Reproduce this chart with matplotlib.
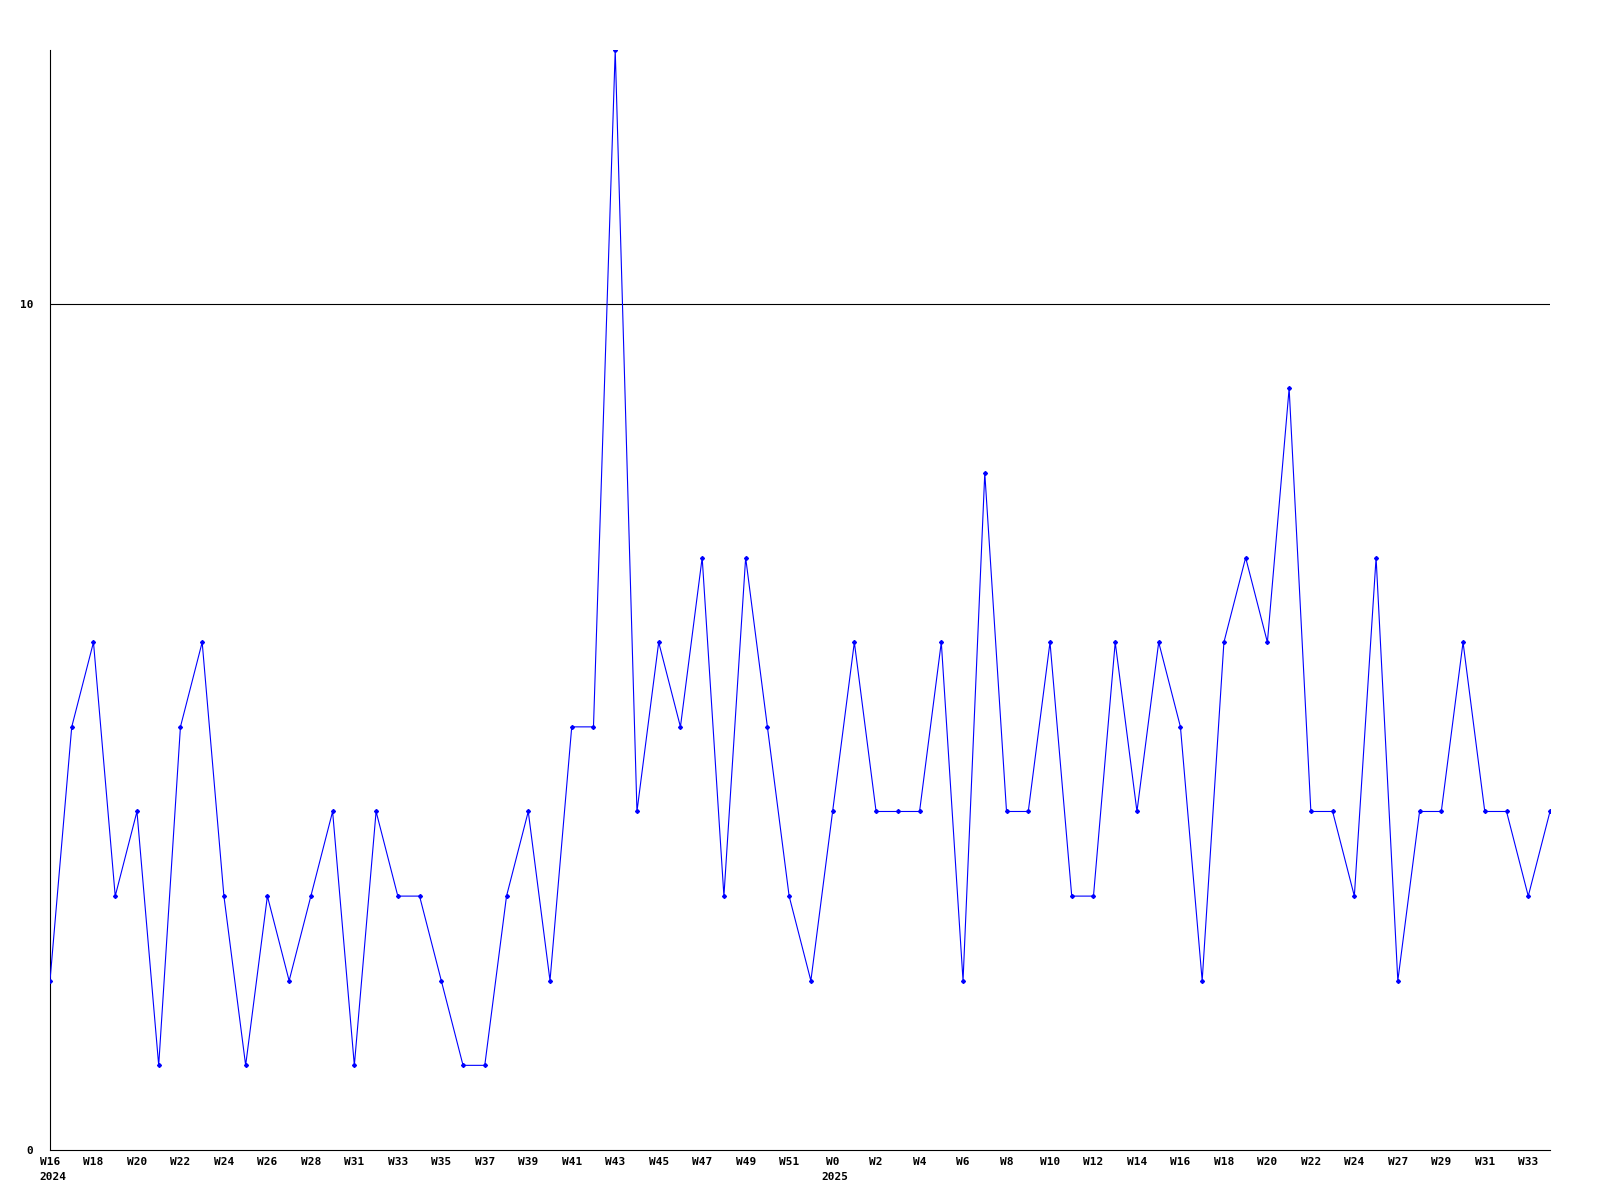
#!/usr/bin/env python3
"""Weekly counts, W16 2024 - W34 2025."""

import matplotlib
matplotlib.use("Agg")
import matplotlib.pyplot as plt
import matplotlib.transforms as mtransforms

# weekly values, one per week
values = [2, 5, 6, 3, 4, 1, 5, 6, 3, 1,
          3, 2, 3, 4, 1, 4, 3, 3, 2, 1,
          1, 3, 4, 2, 5, 5, 13, 4, 6, 5,
          7, 3, 7, 5, 3, 2, 4, 6, 4, 4,
          4, 6, 2, 8, 4, 4, 6, 3, 3, 6,
          4, 6, 5, 2, 6, 7, 6, 9, 4, 4,
          3, 7, 2, 4, 4, 6, 4, 4, 3, 4]

# labels on every second week
tick_labels = ["W16", "W18", "W20", "W22", "W24", "W26", "W28", "W31", "W33",
               "W35", "W37", "W39", "W41", "W43", "W45", "W47", "W49", "W51",
               "W0", "W2", "W4", "W6", "W8", "W10", "W12", "W14", "W16", "W18",
               "W20", "W22", "W24", "W27", "W29", "W31", "W33"]
year_labels = ["2024", "2025"]
year_idx = [0, 36]

y_ticks = [0, 10]

FONT = dict(family="DejaVu Sans Mono", weight="bold", size=8)


def main():
    fig = plt.figure(figsize=(16, 12), dpi=100)
    ax = fig.add_axes([0.03125, 0.0417, 0.9375, 0.9167])

    x = list(range(len(values)))
    ax.plot(x, values, color="#0000ff", lw=0.8, marker="D", ms=2.0,
            mec="#0000ff", mfc="#0000ff", zorder=3)

    ax.set_xlim(0, len(values) - 1)
    ax.set_ylim(0, 13)

    # only one reference line
    ax.axhline(10, color="black", lw=0.8, zorder=1)

    ax.set_yticks(y_ticks)
    ax.set_yticklabels([str(t) for t in y_ticks], **FONT)
    ax.set_xticks(list(range(0, len(values), 2)))
    ax.set_xticklabels(tick_labels, **FONT)
    ax.tick_params(axis="both", length=0)
    ax.tick_params(axis="x", pad=5)
    ax.tick_params(axis="y", pad=12)

    trans = mtransforms.blended_transform_factory(ax.transData, ax.transAxes)
    for i, lab in zip(year_idx, year_labels):
        ax.annotate(lab, xy=(i, 0), xycoords=trans, xytext=(-8, -16),
                    textcoords="offset points", ha="left", va="top", **FONT)

    for side in ("top", "right"):
        ax.spines[side].set_visible(False)
    for side in ("left", "bottom"):
        ax.spines[side].set_linewidth(0.8)
        ax.spines[side].set_color("black")

    fig.savefig("out.png", dpi=100)


if __name__ == "__main__":
    main()
